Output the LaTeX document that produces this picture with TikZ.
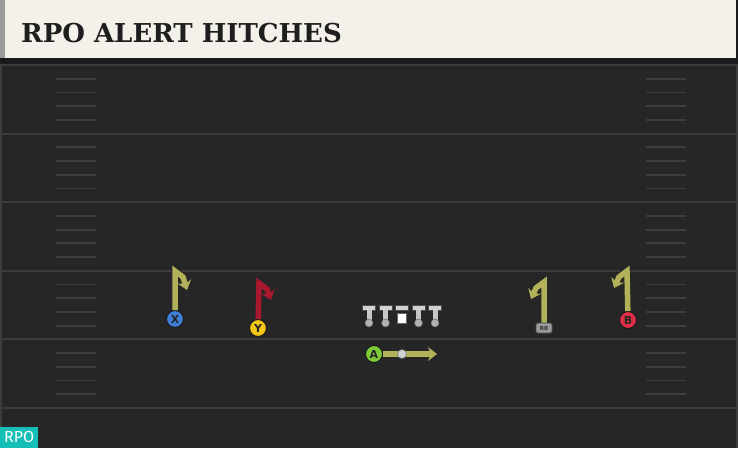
\documentclass[tikz,border=0pt]{standalone}
\usepackage{fontspec}
\setmainfont{DejaVu Sans}
\newfontfamily\titlefont{DejaVu Serif}
\newfontfamily\tagfont{Fira Sans}
\usetikzlibrary{arrows.meta,positioning}

\definecolor{fieldbg}{HTML}{262626}
\definecolor{darkband}{HTML}{1A1A1A}
\definecolor{linegray}{HTML}{3C3C3C}
\definecolor{hashgray}{HTML}{3E3E3E}
\definecolor{headerbg}{HTML}{F4F1EA}
\definecolor{titleink}{HTML}{1E1E1E}
\definecolor{rpoteal}{HTML}{16BFB5}
\definecolor{olive}{HTML}{B3B25A}
\definecolor{routered}{HTML}{A8182F}
\definecolor{xblue}{HTML}{3F7FD8}
\definecolor{yyellow}{HTML}{F5C518}
\definecolor{agreen}{HTML}{7CCB3A}
\definecolor{bred}{HTML}{E03045}
\definecolor{rbgray}{HTML}{9A9A9A}

\tikzset{
    yardline/.style={draw=linegray, line width=2pt},
    hashmark/.style={draw=hashgray, line width=1.8pt},
    titletext/.style={font=\titlefont\bfseries\fontsize{26}{30}\selectfont, text=titleink, inner sep=0pt},
    rpotag/.style={fill=rpoteal, text=white, font=\tagfont\fontsize{16}{18}\selectfont,
        minimum width=38pt, minimum height=21pt, inner sep=0pt},
    player/.style={circle, draw=black!90, line width=1pt, minimum size=17pt, inner sep=0pt,
        text=black!85, font=\bfseries\fontsize{11}{11}\selectfont},
    rbtag/.style={fill=rbgray, draw=black!70, line width=0.6pt, rounded corners=2pt,
        minimum width=16pt, minimum height=10pt, inner sep=0pt, text=black!80,
        font=\bfseries\fontsize{5.5}{5.5}\selectfont},
    route/.style={line width=5.5pt, -{Stealth[length=9pt,width=14pt,inset=3pt]},
        preaction={draw=black!85, line width=7.5pt}},
}

\begin{document}
\begin{tikzpicture}[x=1pt,y=-1pt]
\useasboundingbox (0,0) rectangle (738,448);
% background and field
\fill[darkband] (0,0) rectangle (738,448);
\fill[fieldbg] (0,64) rectangle (738,448);
\fill[linegray] (0,64) rectangle (2,448);
\fill[linegray] (736,64) rectangle (738,448);
% yard lines
\foreach \k in {0,...,5}{
    \draw[yardline] (0,{65+68.6*\k}) -- (738,{65+68.6*\k});
}
% hash marks
\foreach \k in {0,...,4}{
\foreach \j in {1,...,4}
{
    \pgfmathsetmacro\hy{65+68.6*\k+13.72*\j}
    \draw[hashmark] (56,\hy) -- (96,\hy);
    \draw[hashmark] (646,\hy) -- (686,\hy);
}
}
% header
\fill[headerbg] (0,0) rectangle (736,58);
\fill[rbgray] (0,0) rectangle (5,58);
\node[titletext, anchor=base west] (title) at (21,42) {RPO ALERT HITCHES};
% offensive line
\foreach \x in {369,385.5,418.5,435}{
    \fill[gray!35, draw=black!70, line width=0.5pt] (\x-6.5,305) rectangle (\x+6.5,310);
    \fill[gray!45] (\x-2.5,310) rectangle (\x+2.5,321);
    \fill[gray!60, draw=black!60, line width=0.5pt] (\x,323) circle (4);
}
\fill[gray!35, draw=black!70, line width=0.5pt] (395.5,305) rectangle (408.5,310);
\fill[white, draw=black!60, line width=0.5pt] (397.5,313) rectangle (406.5,323);
% players
\node[player, fill=xblue] (X) at (175,319) {X};
\node[player, fill=yyellow] (Y) at (258,328) {Y};
\node[player, fill=agreen] (A) at (374,354) {A};
\node[player, fill=bred] (B) at (628,320) {B};
\node[rbtag] (RB) at (544,328) {RB};
% routes
\coordinate (xturn) at (175,271);
\coordinate (xend) at (187,290);
\draw[route, olive] (X) -- (xturn) -- (183,277) -- (xend);
\coordinate (yturn) at (259,283);
\coordinate (yend) at (271,300);
\draw[route, routered] (Y) -- (yturn) -- (267,289) -- (yend);
\coordinate (rbturn) at (544,282);
\coordinate (rbend) at (531,299);
\draw[route, olive] (RB) -- (rbturn) -- (536,288) -- (rbend);
\coordinate (bturn) at (627,271);
\coordinate (bend) at (614,288);
\draw[route, olive] (B) -- (bturn) -- (619,277) -- (bend);
\coordinate (aend) at (437,354);
\draw[route, olive] (A) -- (aend);
\node[circle, fill=gray!35, draw=black!55, line width=0.6pt, minimum size=9pt, inner sep=0pt] (ball) at (402,354) {};
% rpo tag
\node[rpotag, anchor=south west] (rpo) at (0,448) {RPO};
\end{tikzpicture}
\end{document}
